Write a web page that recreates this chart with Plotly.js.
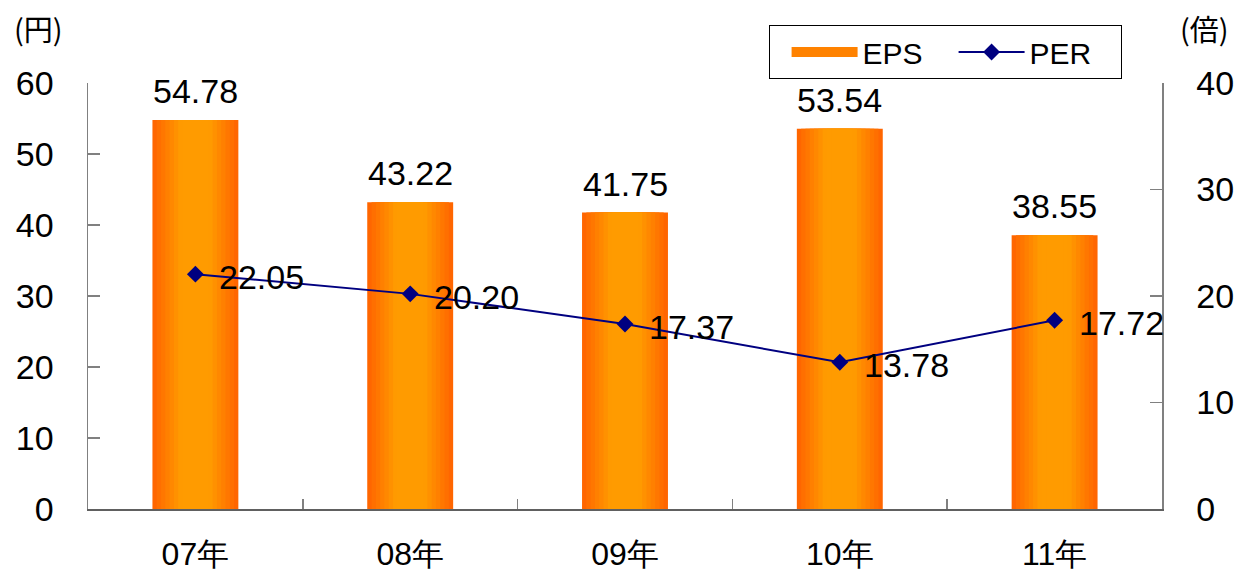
<!DOCTYPE html>
<html>
<head>
<meta charset="utf-8">
<script src="https://cdn.plot.ly/plotly-3.0.1.min.js"></script>
<style>html,body{margin:0;padding:0;background:#fff;}#chart{width:1238px;height:573px;}</style>
</head>
<body>
<div id="chart"></div>
<script>
const categories = ["07年", "08年", "09年", "10年", "11年"];
const eps = [54.78, 43.22, 41.75, 53.54, 38.55];
const per = [22.05, 20.20, 17.37, 13.78, 17.72];
const epsLabels = ["54.78", "43.22", "41.75", "53.54", "38.55"];
const perLabels = ["22.05", "20.20", "17.37", "13.78", "17.72"];

const FONT = "Liberation Sans, Arial, sans-serif";
const traces = [];

// gradient layers for bars (edge dark orange -> center light orange)
const nLayers = 9;
const edge = [255, 102, 0], center = [255, 155, 0];
for (let i = 0; i < nLayers; i++) {
  const t = i / (nLayers - 1);
  const w = 0.40 - i * 0.04;
  const c = edge.map((v, k) => Math.round(v + (center[k] - v) * Math.min(1, t * 1.3)));
  traces.push({
    type: "bar", x: categories, y: eps, width: w, yaxis: "y",
    marker: {color: `rgb(${c[0]},${c[1]},${c[2]})`, line: {width: 0}},
    name: "EPS", showlegend: false, hoverinfo: "skip"
  });
}
// legend proxy for EPS (wide swatch)
traces.push({
  type: "scatter", mode: "lines", x: [null], y: [null], name: "EPS", showlegend: true,
  line: {color: "rgb(255,130,0)", width: 21}
});

traces.push({
  type: "scatter", mode: "lines+markers", x: categories, y: per, yaxis: "y2",
  name: "PER", line: {color: "#000080", width: 2},
  marker: {symbol: "diamond", size: 13, color: "#000080"}
});

const annotations = [];
categories.forEach((c, i) => {
  annotations.push({x: c, y: eps[i], xref: "x", yref: "y", text: epsLabels[i],
    showarrow: false, yanchor: "bottom", yshift: 8, font: {family: FONT, size: 34, color: "#000"}});
  annotations.push({x: c, y: per[i], xref: "x", yref: "y2", text: perLabels[i],
    showarrow: false, xanchor: "left", xshift: 22, yshift: -3, font: {family: FONT, size: 34, color: "#000"}});
});
annotations.push({xref: "paper", yref: "paper", x: -0.046, y: 1.129, xanchor: "center", yanchor: "middle",
  text: "(円)", showarrow: false, font: {family: "Noto Sans CJK JP, sans-serif", size: 29, color: "#000"}});
annotations.push({xref: "paper", yref: "paper", x: 1.040, y: 1.129, xanchor: "center", yanchor: "middle",
  text: "(倍)", showarrow: false, font: {family: "Noto Sans CJK JP, sans-serif", size: 29, color: "#000"}});

const axisCommon = {
  showgrid: false, zeroline: false, showline: true, linecolor: "#808080", linewidth: 1.5,
  ticks: "inside", ticklen: 12, tickcolor: "#808080", tickwidth: 1.5,
  tickfont: {family: FONT, size: 34, color: "#000"}, fixedrange: true
};

const layout = {
  width: 1238, height: 573,
  margin: {l: 88, r: 76, t: 83, b: 64},
  paper_bgcolor: "#fff", plot_bgcolor: "#fff",
  barmode: "overlay",
  font: {family: FONT, color: "#000"},
  xaxis: {
    type: "category", range: [-0.5, 4.5], showgrid: false, zeroline: false,
    showline: true, linecolor: "#606060", linewidth: 1.5,
    ticks: "inside", tickson: "boundaries", ticklen: 10, tickcolor: "#808080", tickwidth: 1.5,
    tickfont: {family: FONT, size: 32, color: "#000"}, ticklabelstandoff: 16
  },
  yaxis: Object.assign({}, axisCommon, {range: [0, 60], dtick: 10, side: "left", ticklabelstandoff: 26}),
  yaxis2: Object.assign({}, axisCommon, {range: [0, 40], dtick: 10, side: "right", overlaying: "y", ticklabelstandoff: 26}),
  legend: {
    orientation: "h", x: 0.634, y: 1.136, xanchor: "left", yanchor: "top",
    bordercolor: "#000", borderwidth: 1, bgcolor: "#fff",
    font: {family: FONT, size: 30, color: "#000"}, itemwidth: 66, entrywidth: 86,
    title: {text: "\u00a0\u00a0", font: {family: FONT, size: 12}},
    traceorder: "normal"
  },
  annotations: annotations,
  showlegend: true
};

Plotly.newPlot("chart", traces, layout, {displayModeBar: false, staticPlot: true});
</script>
</body>
</html>
